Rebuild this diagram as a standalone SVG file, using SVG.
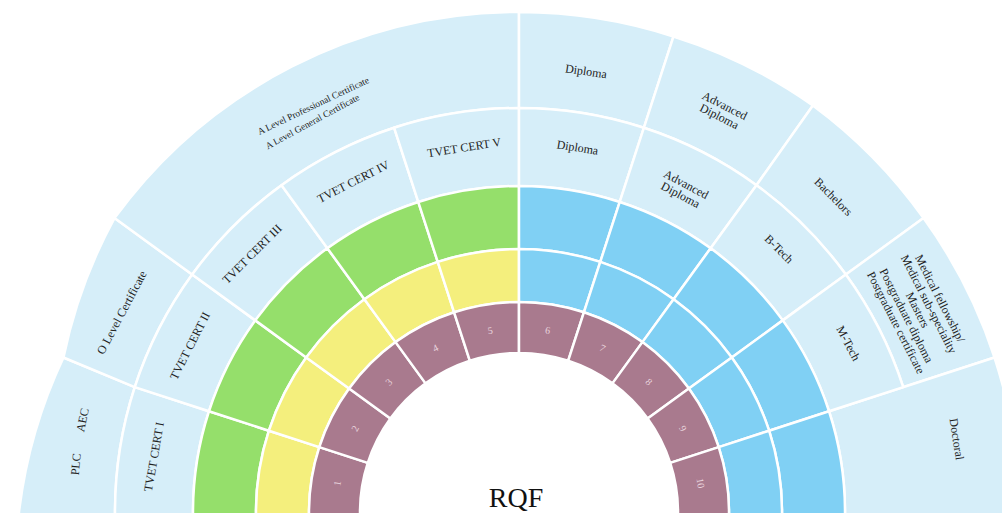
<svg xmlns="http://www.w3.org/2000/svg" width="1002" height="513" viewBox="0 0 1002 513">
  <style>
    .cell { stroke: #ffffff; stroke-width: 2.5; stroke-linejoin: round; }
    .pale { fill: #D6EEF9; }
    .blue { fill: #80D0F4; }
    .green { fill: #95DF6B; }
    .yellow { fill: #F4EF7D; }
    .level { fill: #A97A8E; }
    .lbl { font-family: "Liberation Serif", "Times New Roman", serif; font-size: 12px; fill: #222222; text-anchor: middle; dominant-baseline: central; }
    .small { font-size: 9.5px; }
    .num { font-family: "Liberation Serif", "Times New Roman", serif; font-size: 10px; fill: #EAD6DF; text-anchor: middle; dominant-baseline: central; }
    .title { font-family: "Liberation Serif", "Times New Roman", serif; font-size: 28px; fill: #111111; text-anchor: middle; }
  </style>
  <rect width="1002" height="513" fill="#ffffff"/>

  <!-- Outer ring (r 404-500) -->
  <g id="outer-plc-aec">
    <path class="cell pale" d="M63.47,357.49 A500 500 0 0 0 19,512 L19,516 L115,516 L115,512 A404 404 0 0 1 134.77,387.16 Z"/>
    <text class="lbl" transform="translate(75.8,464.2) rotate(-84)">PLC</text>
    <text class="lbl" transform="translate(82.5,420) rotate(-78)">AEC</text>
  </g>
  <g id="outer-o-level">
    <path class="cell pale" d="M114.49,218.11 A500 500 0 0 0 63.47,357.49 L134.77,387.16 A404 404 0 0 1 192.16,274.53 Z"/>
    <text class="lbl" transform="translate(121.7,312.5) rotate(-62)">O Level Certificate</text>
  </g>
  <g id="outer-a-level">
    <path class="cell pale" d="M519,12 A500 500 0 0 0 114.49,218.11 L192.16,274.53 A404 404 0 0 1 519,108 Z"/>
    <text class="lbl small" transform="translate(313.3,105.9) rotate(-25.5)">A Level Professional Certificate</text>
    <text class="lbl small" transform="translate(312.5,121.7) rotate(-28.5)">A Level General Certificate</text>
  </g>
  <g id="outer-diploma">
    <path class="cell pale" d="M673.51,36.47 A500 500 0 0 0 519,12 L519,108 A404 404 0 0 1 643.84,127.77 Z"/>
    <text class="lbl" transform="translate(586,71.3) rotate(8.5)">Diploma</text>
  </g>
  <g id="outer-advanced-diploma">
    <path class="cell pale" d="M812.89,105.49 A500 500 0 0 0 673.51,36.47 L643.84,127.77 A404 404 0 0 1 756.47,185.16 Z"/>
    <text class="lbl" transform="translate(722,111) rotate(27)"><tspan x="0" y="-6">Advanced</tspan><tspan x="0" y="6">Diploma</tspan></text>
  </g>
  <g id="outer-bachelors">
    <path class="cell pale" d="M923.51,218.11 A500 500 0 0 0 812.89,105.49 L756.47,185.16 A404 404 0 0 1 845.84,274.53 Z"/>
    <text class="lbl" transform="translate(833.3,196.7) rotate(45)">Bachelors</text>
  </g>
  <g id="outer-postgraduate">
    <path class="cell pale" d="M994.53,357.49 A500 500 0 0 0 923.51,218.11 L845.84,274.53 A404 404 0 0 1 903.23,387.16 Z"/>
    <text class="lbl" transform="translate(918.3,311.2) rotate(63)">
      <tspan x="0" y="-25.2">Medical fellowship/</tspan>
      <tspan x="0" y="-12.6">Medical sub-speciality</tspan>
      <tspan x="0" y="0">Masters</tspan>
      <tspan x="0" y="12.6">Postgraduate diploma</tspan>
      <tspan x="0" y="25.2">Postgraduate certificate</tspan>
    </text>
  </g>
  <g id="outer-doctoral">
    <path class="cell pale" d="M1019,516 L1019,512 A500 500 0 0 0 994.53,357.49 L829.04,411.26 A326 326 0 0 1 845,512 L845,516 Z"/>
    <text class="lbl" transform="translate(956.7,439.2) rotate(81)">Doctoral</text>
  </g>

  <!-- Qualification ring (r 326-404) -->
  <g id="tvet-cert-1">
    <path class="cell pale" d="M134.77,387.16 A404 404 0 0 0 115,512 L115,516 L193,516 L193,512 A326 326 0 0 1 208.96,411.26 Z"/>
    <text class="lbl" transform="translate(154,456.7) rotate(-80)">TVET CERT I</text>
  </g>
  <g id="tvet-cert-2">
    <path class="cell pale" d="M192.16,274.53 A404 404 0 0 0 134.77,387.16 L208.96,411.26 A326 326 0 0 1 255.26,320.38 Z"/>
    <text class="lbl" transform="translate(190,345.8) rotate(-63)">TVET CERT II</text>
  </g>
  <g id="tvet-cert-3">
    <path class="cell pale" d="M281.53,185.16 A404 404 0 0 0 192.16,274.53 L255.26,320.38 A326 326 0 0 1 327.38,248.26 Z"/>
    <text class="lbl" transform="translate(252,254) rotate(-45)">TVET CERT III</text>
  </g>
  <g id="tvet-cert-4">
    <path class="cell pale" d="M394.16,127.77 A404 404 0 0 0 281.53,185.16 L327.38,248.26 A326 326 0 0 1 418.26,201.96 Z"/>
    <text class="lbl" transform="translate(353.3,181.7) rotate(-27)">TVET CERT IV</text>
  </g>
  <g id="tvet-cert-5">
    <path class="cell pale" d="M519,108 A404 404 0 0 0 394.16,127.77 L418.26,201.96 A326 326 0 0 1 519,186 Z"/>
    <text class="lbl" transform="translate(464.2,147.5) rotate(-9)">TVET CERT V</text>
  </g>
  <g id="inner-diploma">
    <path class="cell pale" d="M643.84,127.77 A404 404 0 0 0 519,108 L519,186 A326 326 0 0 1 619.74,201.96 Z"/>
    <text class="lbl" transform="translate(577.5,147.5) rotate(9)">Diploma</text>
  </g>
  <g id="inner-advanced-diploma">
    <path class="cell pale" d="M756.47,185.16 A404 404 0 0 0 643.84,127.77 L619.74,201.96 A326 326 0 0 1 710.62,248.26 Z"/>
    <text class="lbl" transform="translate(683.3,189.6) rotate(28)"><tspan x="0" y="-6">Advanced</tspan><tspan x="0" y="6">Diploma</tspan></text>
  </g>
  <g id="inner-b-tech">
    <path class="cell pale" d="M845.84,274.53 A404 404 0 0 0 756.47,185.16 L710.62,248.26 A326 326 0 0 1 782.74,320.38 Z"/>
    <text class="lbl" transform="translate(779,249) rotate(45)">B-Tech</text>
  </g>
  <g id="inner-m-tech">
    <path class="cell pale" d="M903.23,387.16 A404 404 0 0 0 845.84,274.53 L782.74,320.38 A326 326 0 0 1 829.04,411.26 Z"/>
    <text class="lbl" transform="translate(848.3,343.3) rotate(62)">M-Tech</text>
  </g>

  <!-- Band ring (r 263-326) -->
  <g id="band-outer-1"><path class="cell green" d="M208.96,411.26 A326 326 0 0 0 193,512 L193,516 L256,516 L256,512 A263 263 0 0 1 268.87,430.73 Z"/></g>
  <g id="band-outer-2"><path class="cell green" d="M255.26,320.38 A326 326 0 0 0 208.96,411.26 L268.87,430.73 A263 263 0 0 1 306.23,357.41 Z"/></g>
  <g id="band-outer-3"><path class="cell green" d="M327.38,248.26 A326 326 0 0 0 255.26,320.38 L306.23,357.41 A263 263 0 0 1 364.41,299.23 Z"/></g>
  <g id="band-outer-4"><path class="cell green" d="M418.26,201.96 A326 326 0 0 0 327.38,248.26 L364.41,299.23 A263 263 0 0 1 437.73,261.87 Z"/></g>
  <g id="band-outer-5"><path class="cell green" d="M519,186 A326 326 0 0 0 418.26,201.96 L437.73,261.87 A263 263 0 0 1 519,249 Z"/></g>
  <g id="band-outer-6"><path class="cell blue" d="M619.74,201.96 A326 326 0 0 0 519,186 L519,249 A263 263 0 0 1 600.27,261.87 Z"/></g>
  <g id="band-outer-7"><path class="cell blue" d="M710.62,248.26 A326 326 0 0 0 619.74,201.96 L600.27,261.87 A263 263 0 0 1 673.59,299.23 Z"/></g>
  <g id="band-outer-8"><path class="cell blue" d="M782.74,320.38 A326 326 0 0 0 710.62,248.26 L673.59,299.23 A263 263 0 0 1 731.77,357.41 Z"/></g>
  <g id="band-outer-9"><path class="cell blue" d="M829.04,411.26 A326 326 0 0 0 782.74,320.38 L731.77,357.41 A263 263 0 0 1 769.13,430.73 Z"/></g>
  <g id="band-outer-10"><path class="cell blue" d="M845,516 L845,512 A326 326 0 0 0 829.04,411.26 L769.13,430.73 A263 263 0 0 1 782,512 L782,516 Z"/></g>

  <!-- Band ring (r 210-263) -->
  <g id="band-inner-1"><path class="cell yellow" d="M268.87,430.73 A263 263 0 0 0 256,512 L256,516 L309,516 L309,512 A210 210 0 0 1 319.28,447.11 Z"/></g>
  <g id="band-inner-2"><path class="cell yellow" d="M306.23,357.41 A263 263 0 0 0 268.87,430.73 L319.28,447.11 A210 210 0 0 1 349.11,388.57 Z"/></g>
  <g id="band-inner-3"><path class="cell yellow" d="M364.41,299.23 A263 263 0 0 0 306.23,357.41 L349.11,388.57 A210 210 0 0 1 395.57,342.11 Z"/></g>
  <g id="band-inner-4"><path class="cell yellow" d="M437.73,261.87 A263 263 0 0 0 364.41,299.23 L395.57,342.11 A210 210 0 0 1 454.11,312.28 Z"/></g>
  <g id="band-inner-5"><path class="cell yellow" d="M519,249 A263 263 0 0 0 437.73,261.87 L454.11,312.28 A210 210 0 0 1 519,302 Z"/></g>
  <g id="band-inner-6"><path class="cell blue" d="M600.27,261.87 A263 263 0 0 0 519,249 L519,302 A210 210 0 0 1 583.89,312.28 Z"/></g>
  <g id="band-inner-7"><path class="cell blue" d="M673.59,299.23 A263 263 0 0 0 600.27,261.87 L583.89,312.28 A210 210 0 0 1 642.43,342.11 Z"/></g>
  <g id="band-inner-8"><path class="cell blue" d="M731.77,357.41 A263 263 0 0 0 673.59,299.23 L642.43,342.11 A210 210 0 0 1 688.89,388.57 Z"/></g>
  <g id="band-inner-9"><path class="cell blue" d="M769.13,430.73 A263 263 0 0 0 731.77,357.41 L688.89,388.57 A210 210 0 0 1 718.72,447.11 Z"/></g>
  <g id="band-inner-10"><path class="cell blue" d="M782,516 L782,512 A263 263 0 0 0 769.13,430.73 L718.72,447.11 A210 210 0 0 1 729,512 L729,516 Z"/></g>

  <!-- Level ring (r 159-210) -->
  <g id="level-1">
    <path class="cell level" d="M319.28,447.11 A210 210 0 0 0 309,512 L309,516 L360,516 L360,512 A159 159 0 0 1 367.78,462.87 Z"/>
    <text class="num" transform="translate(337.3,483.2) rotate(-81)">1</text>
  </g>
  <g id="level-2">
    <path class="cell level" d="M349.11,388.57 A210 210 0 0 0 319.28,447.11 L367.78,462.87 A159 159 0 0 1 390.37,418.54 Z"/>
    <text class="num" transform="translate(355.1,428.5) rotate(-63)">2</text>
  </g>
  <g id="level-3">
    <path class="cell level" d="M395.57,342.11 A210 210 0 0 0 349.11,388.57 L390.37,418.54 A159 159 0 0 1 425.54,383.37 Z"/>
    <text class="num" transform="translate(388.9,381.9) rotate(-45)">3</text>
  </g>
  <g id="level-4">
    <path class="cell level" d="M454.11,312.28 A210 210 0 0 0 395.57,342.11 L425.54,383.37 A159 159 0 0 1 469.87,360.78 Z"/>
    <text class="num" transform="translate(435.5,348.1) rotate(-27)">4</text>
  </g>
  <g id="level-5">
    <path class="cell level" d="M519,302 A210 210 0 0 0 454.11,312.28 L469.87,360.78 A159 159 0 0 1 519,353 Z"/>
    <text class="num" transform="translate(490.2,330.3) rotate(-9)">5</text>
  </g>
  <g id="level-6">
    <path class="cell level" d="M583.89,312.28 A210 210 0 0 0 519,302 L519,353 A159 159 0 0 1 568.13,360.78 Z"/>
    <text class="num" transform="translate(547.8,330.3) rotate(9)">6</text>
  </g>
  <g id="level-7">
    <path class="cell level" d="M642.43,342.11 A210 210 0 0 0 583.89,312.28 L568.13,360.78 A159 159 0 0 1 612.46,383.37 Z"/>
    <text class="num" transform="translate(602.5,348.1) rotate(27)">7</text>
  </g>
  <g id="level-8">
    <path class="cell level" d="M688.89,388.57 A210 210 0 0 0 642.43,342.11 L612.46,383.37 A159 159 0 0 1 647.63,418.54 Z"/>
    <text class="num" transform="translate(649.1,381.9) rotate(45)">8</text>
  </g>
  <g id="level-9">
    <path class="cell level" d="M718.72,447.11 A210 210 0 0 0 688.89,388.57 L647.63,418.54 A159 159 0 0 1 670.22,462.87 Z"/>
    <text class="num" transform="translate(683,428.5) rotate(63)">9</text>
  </g>
  <g id="level-10">
    <path class="cell level" d="M729,516 L729,512 A210 210 0 0 0 718.72,447.11 L670.22,462.87 A159 159 0 0 1 678,512 L678,516 Z"/>
    <text class="num" transform="translate(700.7,483.2) rotate(81)">10</text>
  </g>

  <!-- Centre title -->
  <g id="title">
    <text class="title" x="516" y="507">RQF</text>
  </g>

  <!-- Borders between cells are drawn by the cell strokes -->
  <g id="connectors"></g>
</svg>
